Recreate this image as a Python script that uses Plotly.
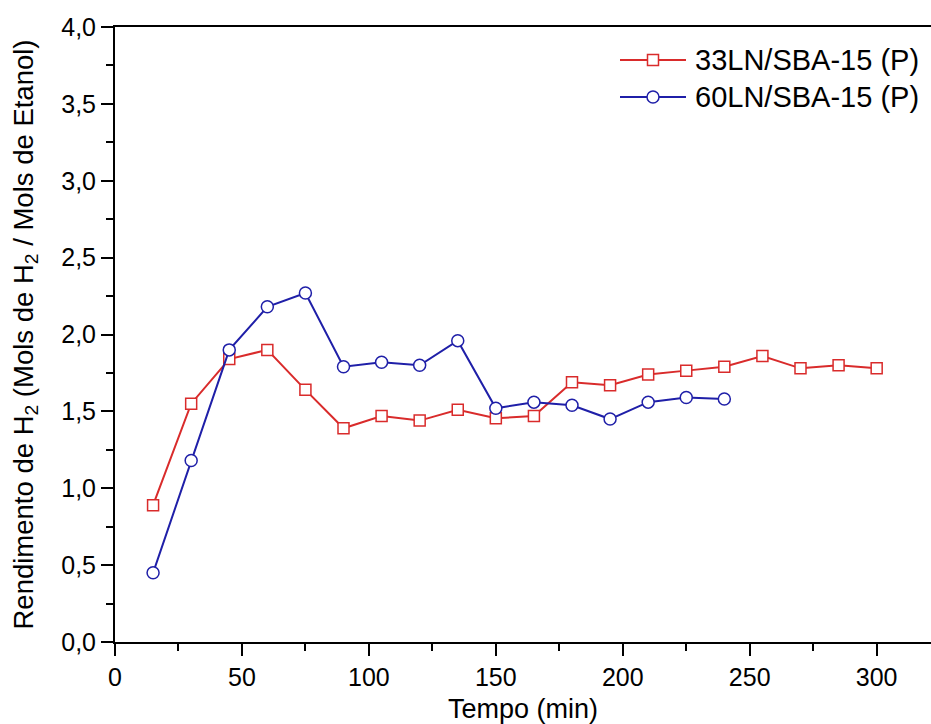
import plotly.graph_objects as go

# Reaction time (min)
tempo_33 = [15, 30, 45, 60, 75, 90, 105, 120, 135, 150, 165, 180, 195, 210, 225, 240, 255, 270, 285, 300]
tempo_60 = [15, 30, 45, 60, 75, 90, 105, 120, 135, 150, 165, 180, 195, 210, 225, 240]

# H2 yield (mol H2 / mol ethanol)
rend_33 = [0.89, 1.55, 1.84, 1.90, 1.64, 1.39, 1.47, 1.44, 1.51, 1.455, 1.47, 1.69, 1.67, 1.74, 1.765, 1.79, 1.86, 1.78, 1.80, 1.78]
rend_60 = [0.45, 1.18, 1.90, 2.18, 2.27, 1.79, 1.82, 1.80, 1.96, 1.52, 1.56, 1.54, 1.45, 1.56, 1.59, 1.58]

series_names = ["33LN/SBA-15 (P)", "60LN/SBA-15 (P)"]
x_ticks = [0, 50, 100, 150, 200, 250, 300]
y_ticks = [0.0, 0.5, 1.0, 1.5, 2.0, 2.5, 3.0, 3.5, 4.0]

RED = "#d92b2b"
BLUE = "#1f1fa8"
FONT = "Arial, Liberation Sans, sans-serif"

W, H = 931, 724
ML, MR, MT, MB = 115, 0, 27, 82

fig = go.Figure()
fig.add_trace(go.Scatter(
    x=tempo_33, y=rend_33, mode="lines+markers", name=series_names[0],
    line=dict(color=RED, width=2),
    marker=dict(symbol="square", size=11, color="white", line=dict(color=RED, width=1.5)),
    showlegend=False,
))
fig.add_trace(go.Scatter(
    x=tempo_60, y=rend_60, mode="lines+markers", name=series_names[1],
    line=dict(color=BLUE, width=2),
    marker=dict(symbol="circle", size=12, color="white", line=dict(color=BLUE, width=1.5)),
    showlegend=False,
))

# Legend drawn as shapes + text at pixel positions converted to paper coords
pw, ph = W - ML - MR, H - MT - MB
def px(xp):
    return (xp - ML) / pw
def py(yp):
    return 1 - (yp - MT) / ph

legend_rows = [(60, RED, "square"), (97, BLUE, "circle")]
for (yy, col, sym), name in zip(legend_rows, series_names):
    fig.add_shape(type="line", xref="paper", yref="paper",
                  x0=px(620), x1=px(686), y0=py(yy), y1=py(yy),
                  line=dict(color=col, width=2))
    shape_type = "rect" if sym == "square" else "circle"
    r = 5.5 if sym == "square" else 6
    fig.add_shape(type=shape_type, xref="paper", yref="paper",
                  x0=px(653 - r), x1=px(653 + r), y0=py(yy - r), y1=py(yy + r),
                  fillcolor="white", line=dict(color=col, width=1.5))
    fig.add_annotation(xref="paper", yref="paper", x=px(693), y=py(yy),
                       xanchor="left", yanchor="middle", showarrow=False,
                       text=name, font=dict(family=FONT, size=29, color="black"))

axis_common = dict(
    showline=True, linecolor="black", linewidth=2,
    ticks="outside", ticklen=12, tickwidth=2, tickcolor="black",
    showgrid=False, zeroline=False,
    tickfont=dict(family=FONT, size=25, color="black"),
)

fig.update_xaxes(
    range=[0, 321.4], tickvals=x_ticks, mirror=True,
    minor=dict(dtick=25, tick0=0, ticks="outside", ticklen=7, tickwidth=2, tickcolor="black"),
    title=dict(text="Tempo (min)", font=dict(family=FONT, size=27, color="black"), standoff=11),
    **axis_common,
)
fig.update_yaxes(
    range=[0, 4.0], tickvals=y_ticks, tickformat=".1f",
    minor=dict(dtick=0.25, tick0=0, ticks="outside", ticklen=7, tickwidth=2, tickcolor="black"),
    title=dict(text="Rendimento de H<sub>2</sub> (Mols de H<sub>2</sub> / Mols de Etanol)",
               font=dict(family=FONT, size=27.5, color="black"), standoff=20),
    **axis_common,
)

fig.update_layout(
    width=W, height=H,
    margin=dict(l=ML, r=MR, t=MT, b=MB),
    paper_bgcolor="white", plot_bgcolor="white",
    separators=", ",
    font=dict(family=FONT, color="black"),
)

fig.write_html("out.html")
